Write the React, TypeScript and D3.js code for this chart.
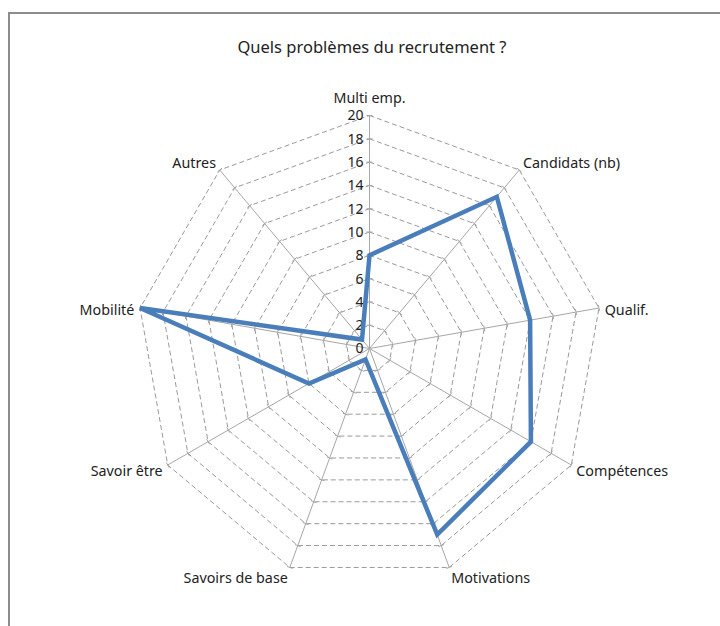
import React, { useEffect, useRef } from 'react';
import * as d3 from 'd3';

// categories, clockwise from the top
const categories = ['Multi emp.', 'Candidats (nb)', 'Qualif.', 'Compétences', 'Motivations', 'Savoirs de base', 'Savoir être', 'Mobilité', 'Autres'];
const values = [8, 17, 14, 16, 17, 1, 6, 20, 1];
const ticks = [0, 2, 4, 6, 8, 10, 12, 14, 16, 18, 20];
const title = 'Quels problèmes du recrutement ?';

const App = () => {
  const ref = useRef<SVGSVGElement>(null);

  useEffect(() => {
    const svg = d3.select(ref.current);
    svg.selectAll('*').remove();
    const width = 720;
    const height = 626;
    const cx = 369.5;
    const cy = 348.5;
    const R = 233;
    const font = "'Noto Sans', 'Open Sans', sans-serif";

    // frame, only top and left edges show
    svg.append('rect')
      .attr('x', 9).attr('y', 13)
      .attr('width', 800).attr('height', 800)
      .attr('fill', 'none')
      .attr('stroke', '#8c8c8c')
      .attr('stroke-width', 2);

    const r = d3.scaleLinear().domain([0, 20]).range([0, R]);
    const angle = d3.scaleLinear().domain([0, categories.length]).range([0, 2 * Math.PI]);
    const pt = (i: number, v: number) => [cx + r(v) * Math.sin(angle(i)), cy - r(v) * Math.cos(angle(i))];

    const g = svg.append('g');

    // dashed rings
    ticks.slice(1).forEach((t) => {
      const pts = categories.map((_, i) => pt(i, t));
      g.append('path')
        .attr('d', 'M' + pts.map((p) => p.join(',')).join('L') + 'Z')
        .attr('fill', 'none')
        .attr('stroke', '#9a9a9a')
        .attr('stroke-width', 1)
        .attr('stroke-dasharray', '5,3');
    });

    // spokes with small ticks
    categories.forEach((_, i) => {
      const end = pt(i, 20);
      g.append('line')
        .attr('x1', cx).attr('y1', cy)
        .attr('x2', end[0]).attr('y2', end[1])
        .attr('stroke', '#a6a6a6')
        .attr('stroke-width', 1);
      const a = angle(i);
      const px = Math.cos(a) * 3;
      const py = Math.sin(a) * 3;
      ticks.slice(1).forEach((t) => {
        const p = pt(i, t);
        g.append('line')
          .attr('x1', p[0] - px).attr('y1', p[1] - py)
          .attr('x2', p[0] + px).attr('y2', p[1] + py)
          .attr('stroke', '#a6a6a6')
          .attr('stroke-width', 1);
      });
    });

    // value labels on the top spoke
    g.selectAll('text.tick')
      .data(ticks)
      .enter().append('text')
      .attr('class', 'tick')
      .attr('x', cx - 6)
      .attr('y', (d) => cy - r(d))
      .attr('dy', '0.35em')
      .attr('text-anchor', 'end')
      .attr('font-family', font)
      .attr('font-size', 14)
      .attr('fill', '#222')
      .text((d) => d);

    // series
    const line = d3.lineRadial<number>()
      .angle((_, i) => angle(i))
      .radius((d) => r(d))
      .curve(d3.curveLinearClosed);
    g.append('path')
      .attr('transform', 'translate(' + cx + ',' + cy + ')')
      .attr('d', line(values))
      .attr('fill', 'none')
      .attr('stroke', '#4a7ebb')
      .attr('stroke-width', 4.5)
      .attr('stroke-linejoin', 'miter');

    // category labels
    categories.forEach((c, i) => {
      const a = angle(i);
      const s = Math.sin(a);
      const co = Math.cos(a);
      const p = pt(i, 20.5);
      const anchor = s > 0.1 ? 'start' : s < -0.1 ? 'end' : 'middle';
      const dy = co > 0.9 ? -12 : co > 0.5 ? -3 : co < -0.9 ? 5 : 3;
      g.append('text')
        .attr('x', p[0])
        .attr('y', p[1] + dy)
        .attr('dy', '0.35em')
        .attr('text-anchor', anchor)
        .attr('font-family', font)
        .attr('font-size', 14.3)
        .attr('fill', '#222')
        .text(c);
    });

    svg.append('text')
      .attr('x', 372)
      .attr('y', 47)
      .attr('dy', '0.35em')
      .attr('text-anchor', 'middle')
      .attr('font-family', font)
      .attr('font-size', 16.5)
      .attr('fill', '#222')
      .text(title);

    svg.attr('width', width).attr('height', height);
  }, []);

  return (
    <svg ref={ref} width={720} height={626} style={{ position: 'absolute', left: 0, top: 0, background: '#fff' }}></svg>
  );
};

export default App;
